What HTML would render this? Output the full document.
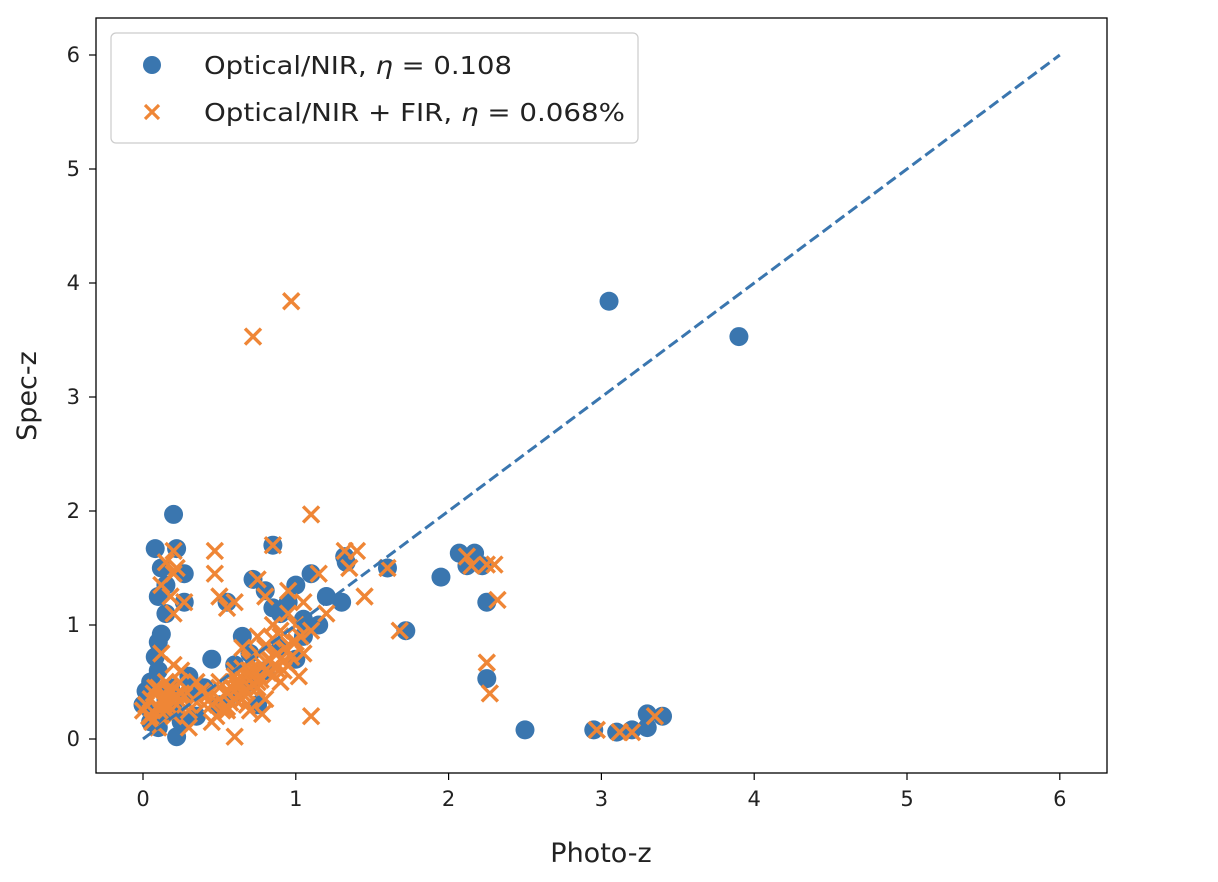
<!DOCTYPE html>
<html><head><meta charset="utf-8">
<style>
body{margin:0;background:#fff;}
svg{display:block;font-family:"DejaVu Sans","Liberation Sans",sans-serif;}
</style></head>
<body>
<svg id="chart" width="1218" height="882" viewBox="0 0 1218 882" xmlns="http://www.w3.org/2000/svg">
<rect width="1218" height="882" fill="#fff"/>
<g id="plot"></g>
<rect x="96" y="18" width="1011" height="755" fill="none" stroke="#000" stroke-width="1.3"/>
<g id="xticks"></g>
<g id="yticks"></g>
<text x="601" y="862" font-size="27" text-anchor="middle" fill="#222">Photo-z</text>
<text transform="translate(36,396) rotate(-90)" font-size="27" text-anchor="middle" fill="#222">Spec-z</text>
<g>
<rect x="111" y="33" width="527" height="110" rx="5" fill="#fff" fill-opacity="0.85" stroke="#ccc" stroke-width="1.2"/>
<circle cx="152" cy="65" r="9" fill="#3a76af"/>
<text x="204" y="74" font-size="25" fill="#222" textLength="308" lengthAdjust="spacingAndGlyphs">Optical/NIR, <tspan font-style="italic">η</tspan> = 0.108</text>
<g stroke="#ef8636" stroke-width="3.2"><line x1="145" y1="105" x2="159" y2="119"/><line x1="145" y1="119" x2="159" y2="105"/></g>
<text x="204" y="121" font-size="25" fill="#222" textLength="421" lengthAdjust="spacingAndGlyphs">Optical/NIR + FIR, <tspan font-style="italic">η</tspan> = 0.068%</text>
</g>
</svg>
<script>
const xTicks=[0,1,2,3,4,5,6];
const yTicks=[0,1,2,3,4,5,6];
const blueX=[3.05,3.9,2.5,2.95,3.1,3.2,3.3,3.3,3.4,2.25,2.25,2.07,2.17,1.95,2.12,2.22,1.6,1.72,0.2,0.08,0.22,0.12,0.15,0.1,0.27,0.27,0.15,0.12,0.1,0.08,0.1,0.05,0.02,0,0.05,0.1,0.22,0.2,0.3,0.45,0.55,0.72,0.85,0.8,1.0,1.1,1.2,1.3,1.33,1.32,1.15,1.05,0.9,0.8,0.7,0.6,0.5,0.35,1.0,0.9,0.65,0.3,0.15,0.4,0.75,0.12,0.18,0.05,0.25,0.95,1.05,0.85,0.6,0.7];
const blueY=[3.84,3.53,0.08,0.08,0.06,0.08,0.1,0.22,0.2,0.53,1.2,1.63,1.63,1.42,1.52,1.52,1.5,0.95,1.97,1.67,1.67,1.5,1.35,1.25,1.45,1.2,1.1,0.92,0.85,0.72,0.6,0.5,0.42,0.3,0.15,0.1,0.02,0.25,0.4,0.7,1.2,1.4,1.7,1.3,1.35,1.45,1.25,1.2,1.55,1.6,1.0,0.9,0.8,0.6,0.5,0.4,0.3,0.2,0.7,1.1,0.9,0.55,0.35,0.45,0.3,0.2,0.45,0.25,0.15,1.2,1.05,1.15,0.65,0.75];
const orangeX=[0.72,0.97,1.1,1.1,0.6,0.85,0.47,0.47,0.5,0.55,0.6,0.2,0.15,0.22,0.12,0.2,0.27,0.18,0.2,1.32,1.4,1.35,1.45,1.15,1.6,1.68,2.12,2.15,2.25,2.3,2.32,2.25,2.27,2.97,3.12,3.2,3.35,0.75,0.8,0.95,1.05,1.2,1.0,0.9,0.8,0.7,0.6,0.5,0.4,0.3,0.2,0.1,0.05,0.1,0.0,0.15,0.2,0.25,0.3,0.45,0.55,0.65,0.75,0.85,0.95,1.05,0.7,0.8,0.9,1.0,1.1,0.6,0.7,0.75,0.65,0.85,0.95,0.55,0.5,0.62,0.72,0.82,0.92,1.02,0.15,0.05,0.35,0.4,0.25,0.12,0.3,0.68,0.78,0.48,0.9,
0.58,0.63,0.68,0.73,0.78,0.83,0.88,0.93,0.98,1.03,0.57,0.62,0.67,0.72,0.77,0.82,0.87,0.92,0.97,0.6,0.65,0.7,0.75,0.8,0.85,0.9,0.55,0.6,0.65,0.7,0.75,0.8,0.02,0.07,0.12,0.17,0.22,0.27,0.04,0.09,0.14,0.19,0.24,0.06,0.11,0.16,0.21,0.08,0.13,0.18,0.33,0.38,0.43,0.5,0.45,0.52];
const orangeY=[3.53,3.84,1.97,0.2,0.02,1.7,1.65,1.45,1.25,1.15,1.2,1.65,1.55,1.5,1.35,1.45,1.2,1.25,1.1,1.65,1.65,1.5,1.25,1.45,1.5,0.95,1.6,1.52,1.53,1.53,1.22,0.67,0.4,0.08,0.06,0.06,0.2,1.4,1.25,1.3,1.2,1.1,1.0,0.9,0.8,0.7,0.6,0.5,0.4,0.3,0.2,0.1,0.35,0.45,0.25,0.5,0.65,0.4,0.1,0.15,0.25,0.35,0.45,0.55,0.65,0.75,0.25,0.35,0.7,0.85,0.95,0.5,0.6,0.9,0.8,1.0,1.1,0.4,0.35,0.45,0.55,0.7,0.6,0.55,0.25,0.2,0.5,0.3,0.6,0.75,0.25,0.3,0.22,0.2,0.5,
0.45,0.5,0.55,0.6,0.65,0.7,0.75,0.8,0.85,0.9,0.32,0.38,0.42,0.48,0.52,0.58,0.62,0.68,0.72,0.55,0.62,0.68,0.75,0.82,0.88,0.95,0.28,0.35,0.4,0.45,0.5,0.6,0.3,0.4,0.35,0.45,0.3,0.38,0.2,0.28,0.32,0.42,0.5,0.15,0.25,0.3,0.38,0.45,0.35,0.4,0.35,0.42,0.4,0.45,0.3,0.25];
const lineX=[0,6], lineY=[0,6];

const NS="http://www.w3.org/2000/svg";
const sx=v=>143+v*152.8;
const sy=v=>739-v*114;
function mk(tag,attrs,parent){const e=document.createElementNS(NS,tag);for(const k in attrs)e.setAttribute(k,attrs[k]);parent.appendChild(e);return e;}
const plot=document.getElementById('plot');
const xg=document.getElementById('xticks'), yg=document.getElementById('yticks');
xTicks.forEach(t=>{
  const l=mk('line',{x1:sx(t),x2:sx(t),y1:773,y2:780,stroke:'#000','stroke-width':1.2},xg);
  
  
  const tx=mk('text',{x:sx(t),y:806,'font-size':21,'text-anchor':'middle',fill:'#222'},xg);
  tx.textContent=t;
  
  
});
yTicks.forEach(t=>{
  const l=mk('line',{x1:89,x2:96,y1:sy(t),y2:sy(t),stroke:'#000','stroke-width':1.2},yg);
  
  
  const tx=mk('text',{x:80,y:sy(t)+7,'font-size':21,'text-anchor':'end',fill:'#222'},yg);
  tx.textContent=t;
  
  
});
blueX.forEach((x,i)=>{
  const c=mk('circle',{cx:sx(x),cy:sy(blueY[i]),r:9.5,fill:'#3a76af'},plot);
  
  
});
orangeX.forEach((x,i)=>{
  const cx=sx(x),cy=sy(orangeY[i]),d=8;
  const g=mk('path',{d:`M${cx-d},${cy-d}L${cx+d},${cy+d}M${cx-d},${cy+d}L${cx+d},${cy-d}`,stroke:'#ef8636','stroke-width':3.4,fill:'none'},plot);
  
  
});
const dl=mk('line',{x1:sx(lineX[0]),y1:sy(lineY[0]),x2:sx(lineX[1]),y2:sy(lineY[1]),stroke:'#3a76af','stroke-width':3,'stroke-dasharray':'11,5'},plot);


</script>
</body></html>
